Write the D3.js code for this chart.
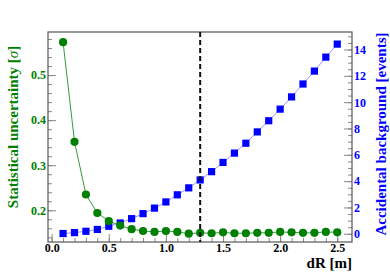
<!DOCTYPE html>
<html>
<head>
<meta charset="utf-8">
<script src="https://cdn.jsdelivr.net/npm/d3@7"></script>
<style>
  body { margin: 0; background: #fff; }
  svg text { font-family: "Liberation Serif", "Times New Roman", serif; font-weight: bold; }
</style>
</head>
<body>
<div id="chart"></div>
<script>
// dR values [m]
var dR = [0.1, 0.2, 0.3, 0.4, 0.5, 0.6, 0.7, 0.8, 0.9, 1.0, 1.1, 1.2, 1.3,
          1.4, 1.5, 1.6, 1.7, 1.8, 1.9, 2.0, 2.1, 2.2, 2.3, 2.4, 2.5];
// statistical uncertainty [sigma]
var sigma = [0.573, 0.352, 0.235, 0.194, 0.176, 0.166, 0.158, 0.154, 0.152, 0.154,
             0.152, 0.148, 0.150, 0.149, 0.151, 0.149, 0.149, 0.150, 0.150, 0.152,
             0.151, 0.150, 0.150, 0.152, 0.151];
// accidental background [events]
var bkg = [0.02, 0.09, 0.19, 0.33, 0.57, 0.82, 1.15, 1.53, 1.95, 2.42,
           2.96, 3.49, 4.09, 4.72, 5.42, 6.13, 6.88, 7.74, 8.59, 9.47,
           10.4, 11.38, 12.36, 13.42, 14.41];
var cutValue = 1.3;

var xTicks = [0.0, 0.5, 1.0, 1.5, 2.0, 2.5];
var leftTicks = [0.2, 0.3, 0.4, 0.5];
var rightTicks = [0, 2, 4, 6, 8, 10, 12, 14];

var width = 390, height = 273;
var margin = { top: 32, right: 38, bottom: 31, left: 48 };

var green = "#008000";
var blue = "#0000ff";

var svg = d3.select("#chart").append("svg")
  .attr("width", width)
  .attr("height", height);

var x = d3.scaleLinear().domain([-0.032, 2.629]).range([margin.left, width - margin.right]);
var yL = d3.scaleLinear().domain([0.1296, 0.5956]).range([height - margin.bottom, margin.top]);
var yR = d3.scaleLinear().domain([-0.624, 15.33]).range([height - margin.bottom, margin.top]);

var bottom = height - margin.bottom;
var right = width - margin.right;

// minor ticks
svg.append("g")
  .attr("transform", "translate(0," + bottom + ")")
  .call(d3.axisBottom(x).tickValues(d3.range(0, 26).map(d => d / 10)).tickSize(-4).tickFormat(""))
  .call(g => g.select(".domain").remove())
  .call(g => g.selectAll("line").attr("stroke", "#888"));
svg.append("g")
  .attr("transform", "translate(" + margin.left + ",0)")
  .call(d3.axisLeft(yL).tickValues(d3.range(7, 30).map(d => d / 50)).tickSize(-4).tickFormat(""))
  .call(g => g.select(".domain").remove())
  .call(g => g.selectAll("line").attr("stroke", "#888"));
svg.append("g")
  .attr("transform", "translate(" + right + ",0)")
  .call(d3.axisRight(yR).tickValues(d3.range(0, 31).map(d => d / 2)).tickSize(-4).tickFormat(""))
  .call(g => g.select(".domain").remove())
  .call(g => g.selectAll("line").attr("stroke", "#888"));

// major ticks + labels
svg.append("g")
  .attr("transform", "translate(0," + bottom + ")")
  .call(d3.axisBottom(x).tickValues(xTicks).tickSize(-8).tickPadding(1).tickFormat(d3.format(".1f")))
  .call(g => g.select(".domain").remove())
  .call(g => g.selectAll("line").attr("stroke", "#888"))
  .call(g => g.selectAll("text").attr("fill", "#000").attr("font-size", 12));
svg.append("g")
  .attr("transform", "translate(" + margin.left + ",0)")
  .call(d3.axisLeft(yL).tickValues(leftTicks).tickSize(-8).tickPadding(2).tickFormat(d3.format(".1f")))
  .call(g => g.select(".domain").remove())
  .call(g => g.selectAll("line").attr("stroke", "#888"))
  .call(g => g.selectAll("text").attr("fill", green).attr("font-size", 12));
svg.append("g")
  .attr("transform", "translate(" + right + ",0)")
  .call(d3.axisRight(yR).tickValues(rightTicks).tickSize(-8).tickPadding(2))
  .call(g => g.select(".domain").remove())
  .call(g => g.selectAll("line").attr("stroke", "#888"))
  .call(g => g.selectAll("text").attr("fill", blue).attr("font-size", 12));

// frame
svg.append("rect")
  .attr("x", margin.left).attr("y", margin.top)
  .attr("width", right - margin.left).attr("height", bottom - margin.top)
  .attr("fill", "none").attr("stroke", "#555").attr("stroke-width", 1.2);

// background series (blue)
svg.append("path")
  .datum(dR)
  .attr("fill", "none")
  .attr("stroke", "#9999ff")
  .attr("stroke-width", 1)
  .attr("d", d3.line().x(d => x(d)).y((d, i) => yR(bkg[i])));
svg.append("g").selectAll("rect")
  .data(dR)
  .join("rect")
  .attr("x", d => x(d) - 3.6)
  .attr("y", (d, i) => yR(bkg[i]) - 3.6)
  .attr("width", 7.2).attr("height", 7.2)
  .attr("fill", blue);

// uncertainty series (green)
svg.append("path")
  .datum(dR)
  .attr("fill", "none")
  .attr("stroke", "#3a9a3a")
  .attr("stroke-width", 1)
  .attr("d", d3.line().x(d => x(d)).y((d, i) => yL(sigma[i])));
svg.append("g").selectAll("circle")
  .data(dR)
  .join("circle")
  .attr("cx", d => x(d))
  .attr("cy", (d, i) => yL(sigma[i]))
  .attr("r", 4.1)
  .attr("fill", green);

// cut line
svg.append("line")
  .attr("x1", x(cutValue)).attr("x2", x(cutValue))
  .attr("y1", margin.top).attr("y2", bottom)
  .attr("stroke", "#111").attr("stroke-width", 2)
  .attr("stroke-dasharray", "5,3");

// axis titles
svg.append("text")
  .attr("text-anchor", "end")
  .attr("x", right)
  .attr("y", 268)
  .attr("font-size", 15)
  .text("dR [m]");

var lt = svg.append("text")
  .attr("text-anchor", "middle")
  .attr("transform", "translate(18,127) rotate(-90)")
  .attr("fill", green)
  .attr("font-size", 15);
lt.append("tspan").text("Statistical uncertainty [");
lt.append("tspan").attr("font-style", "italic").attr("font-weight", "normal").text("σ");
lt.append("tspan").text("]");

svg.append("text")
  .attr("text-anchor", "middle")
  .attr("transform", "translate(386,134) rotate(-90)")
  .attr("fill", blue)
  .attr("font-size", 15)
  .text("Accidental background [events]");
</script>
</body>
</html>
